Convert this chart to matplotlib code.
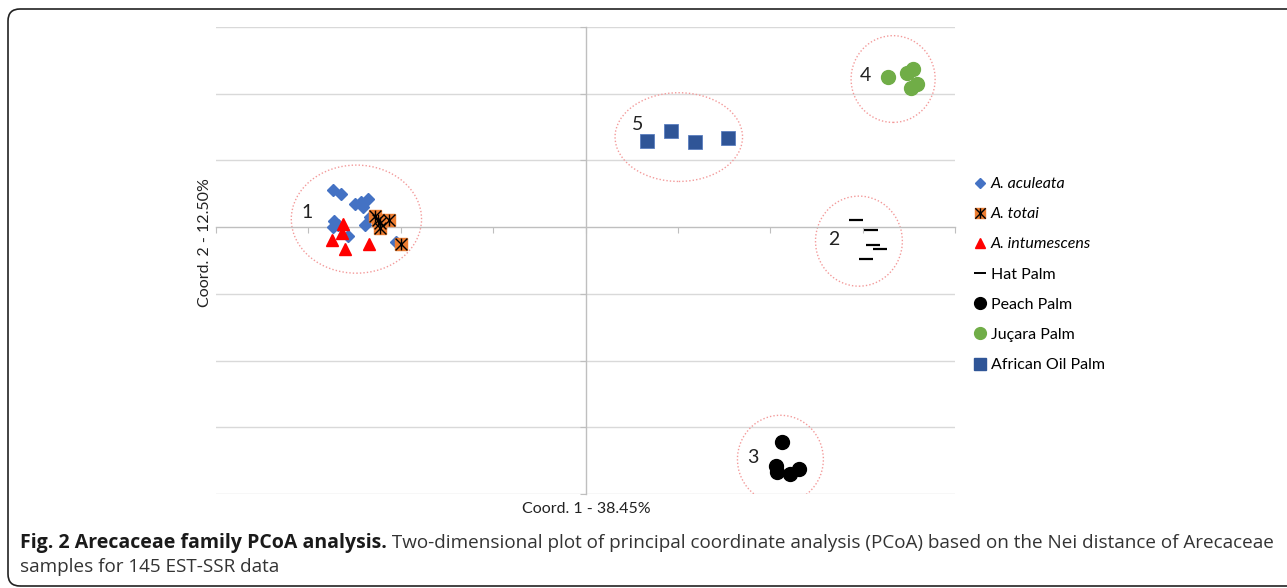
import matplotlib
matplotlib.use("Agg")
import matplotlib.pyplot as plt
from matplotlib.lines import Line2D
from matplotlib.patches import Ellipse, FancyBboxPatch
from matplotlib.path import Path

# PCoA coordinates (units of 0.1 on each axis)
aculeata_x = [-2.73, -2.65, -2.49, -2.43, -2.35, -2.41, -2.39, -2.72, -2.73, -2.68, -2.57, -2.05, -2.33]
aculeata_y = [0.55, 0.49, 0.34, 0.37, 0.42, 0.30, 0.03, 0.09, 0.00, 0.03, -0.13, -0.22, 0.15]
totai_x = [-2.28, -2.23, -2.13, -2.22, -2.25, -2.00]
totai_y = [0.16, 0.06, 0.10, -0.01, 0.10, -0.25]
intumescens_x = [-2.63, -2.64, -2.74, -2.60, -2.34]
intumescens_y = [0.04, -0.09, -0.19, -0.33, -0.25]
hat_x = [2.93, 3.09, 3.11, 3.19, 3.04]
hat_y = [0.10, -0.05, -0.27, -0.33, -0.48]
peach_x = [2.13, 2.06, 2.07, 2.21, 2.31]
peach_y = [-3.22, -3.58, -3.67, -3.70, -3.63]
jucara_x = [3.27, 3.48, 3.55, 3.52, 3.59]
jucara_y = [2.25, 2.31, 2.37, 2.08, 2.14]
oil_x = [0.67, 0.93, 1.18, 1.54]
oil_y = [1.29, 1.44, 1.27, 1.33]

# Group outlines
group_labels = ["1", "2", "3", "4", "5"]
group_cx = [-2.48, 2.96, 2.11, 3.33, 1.01]
group_cy = [0.12, -0.21, -3.48, 2.22, 1.35]
group_w = [1.41, 0.94, 0.93, 0.91, 1.38]
group_h = [1.62, 1.35, 1.32, 1.30, 1.33]
label_x = [-3.01, 2.69, 1.81, 3.03, 0.56]
label_y = [0.22, -0.19, -3.45, 2.28, 1.54]

legend_names = ["A. aculeata", "A. totai", "A. intumescens", "Hat Palm",
                "Peach Palm", "Juçara Palm", "African Oil Palm"]

x_label = "Coord. 1 - 38.45%"
y_label = "Coord. 2 - 12.50%"
caption_bold = "Fig. 2 Arecaceae family PCoA analysis."
caption_rest = (" Two-dimensional plot of principal coordinate analysis (PCoA) "
                "based on the Nei distance of Arecaceae")
caption_line2 = "samples for 145 EST-SSR data"

C_ACU = "#4472C4"
C_TOT = "#ED7D31"
C_INT = "#FF0000"
C_JUC = "#70AD47"
C_OIL = "#2F5597"
GRID = "#d9d9d9"
AXIS = "#bfbfbf"

# asterisk marker: X with a vertical stroke
star_path = Path(
    [(-1, -1), (1, 1), (-1, 1), (1, -1), (0, -1), (0, 1)],
    [Path.MOVETO, Path.LINETO, Path.MOVETO, Path.LINETO, Path.MOVETO, Path.LINETO],
)

W, H = 1287, 588
fig = plt.figure(figsize=(W / 100, H / 100), dpi=100)
fig.patch.set_facecolor("white")

ax = fig.add_axes([216 / W, 1 - 494 / H, (955 - 216) / W, (494 - 27) / H])
ax.set_xlim(-4, 4)
ax.set_ylim(-4, 3)

# gridlines and axes through the origin
for yv in range(-4, 4):
    if yv != 0:
        ax.axhline(yv, color=GRID, lw=1.0, zorder=0)
for s in ["top", "right"]:
    ax.spines[s].set_visible(False)
ax.spines["bottom"].set_position(("data", 0))
ax.spines["left"].set_position(("data", 0))
ax.spines["bottom"].set_color(AXIS)
ax.spines["left"].set_color(AXIS)
ax.spines["bottom"].set_linewidth(1.0)
ax.spines["left"].set_linewidth(1.0)
ax.set_xticks(range(-4, 5))
ax.set_yticks(range(-4, 4))
ax.tick_params(axis="both", length=4, width=0.8, color=AXIS, direction="out",
               labelbottom=False, labelleft=False)

# outlines of the groups
for cx, cy, w, h in zip(group_cx, group_cy, group_w, group_h):
    ax.add_patch(Ellipse((cx, cy), w, h, fill=False, edgecolor="#F39A9A",
                         lw=1.0, linestyle=(0, (1, 1.5)), zorder=1))
for t, lx, ly in zip(group_labels, label_x, label_y):
    ax.text(lx, ly, t, fontsize=14, family="Lato", ha="center", va="center",
            color="#222222", zorder=5)

# samples
ax.plot(aculeata_x, aculeata_y, "D", ms=6.5, color=C_ACU, mec=C_ACU, ls="none", zorder=3)
ax.plot(intumescens_x, intumescens_y, "^", ms=8, color=C_INT, mec=C_INT, ls="none", zorder=3)
ax.plot(totai_x, totai_y, "s", ms=8.5, color=C_TOT, mec=C_TOT, ls="none", zorder=4)
ax.plot(totai_x, totai_y, marker=star_path, ms=8.5, mew=1.0, color="black", ls="none", zorder=4)
ax.plot(hat_x, hat_y, "_", ms=9.5, mew=1.6, color="black", ls="none", zorder=3)
ax.plot(peach_x, peach_y, "o", ms=10, color="black", ls="none", zorder=3)
ax.plot(jucara_x, jucara_y, "o", ms=10, color=C_JUC, ls="none", zorder=3)
ax.plot(oil_x, oil_y, "s", ms=9.5, color=C_OIL, mec="#5b7fc0", mew=0.6, ls="none", zorder=3)

# legend
h_acu = Line2D([], [], marker="D", ms=5.5, color=C_ACU, ls="none")
h_tot = (Line2D([], [], marker="s", ms=7.5, color=C_TOT, ls="none"),
         Line2D([], [], marker=star_path, ms=7.5, mew=1.0, color="black", ls="none"))
h_int = Line2D([], [], marker="^", ms=7, color=C_INT, ls="none")
h_hat = Line2D([], [], marker="_", ms=9, mew=1.4, color="black", ls="none")
h_pea = Line2D([], [], marker="o", ms=8.5, color="black", ls="none")
h_juc = Line2D([], [], marker="o", ms=8.5, color=C_JUC, ls="none")
h_oil = Line2D([], [], marker="s", ms=8, color=C_OIL, ls="none")
leg = fig.legend([h_acu, h_tot, h_int, h_hat, h_pea, h_juc, h_oil], legend_names,
                 loc="upper left", bbox_to_anchor=(974 / W, 1 - 177 / H),
                 frameon=False, prop={"family": "Lato", "size": 11.5},
                 handlelength=0.8, handletextpad=0.26, labelspacing=1.0,
                 borderpad=0, borderaxespad=0)
for txt in leg.get_texts()[:3]:
    txt.set_fontstyle("italic")

# axis titles
fig.text(586 / W, 1 - 509 / H, x_label, ha="center", va="center",
         family="Lato", fontsize=11.5, color="#222222")
fig.text(205 / W, 1 - 243 / H, y_label, ha="center", va="center", rotation=90,
         family="Lato", fontsize=11.5, color="#222222")

# caption
renderer = fig.canvas.get_renderer()
t1 = fig.text(20 / W, 1 - 543 / H, caption_bold, ha="left", va="center",
              family="Open Sans", fontweight="bold", fontsize=14, color="#1a1a1a")
bb = t1.get_window_extent(renderer)
fig.text(bb.x1 / W, 1 - 543 / H, caption_rest, ha="left", va="center",
         family="Open Sans", fontsize=13.6, color="#333333")
fig.text(20 / W, 1 - 567 / H, caption_line2, ha="left", va="center",
         family="Open Sans", fontsize=13.6, color="#333333")

# rounded outer frame
frame = FancyBboxPatch((8, 2), 1300, 577, boxstyle="round,pad=0,rounding_size=12",
                       transform=None, fill=False, edgecolor="#222222", lw=1.2)
fig.patches.append(frame)

fig.savefig("out.png", dpi=100)
